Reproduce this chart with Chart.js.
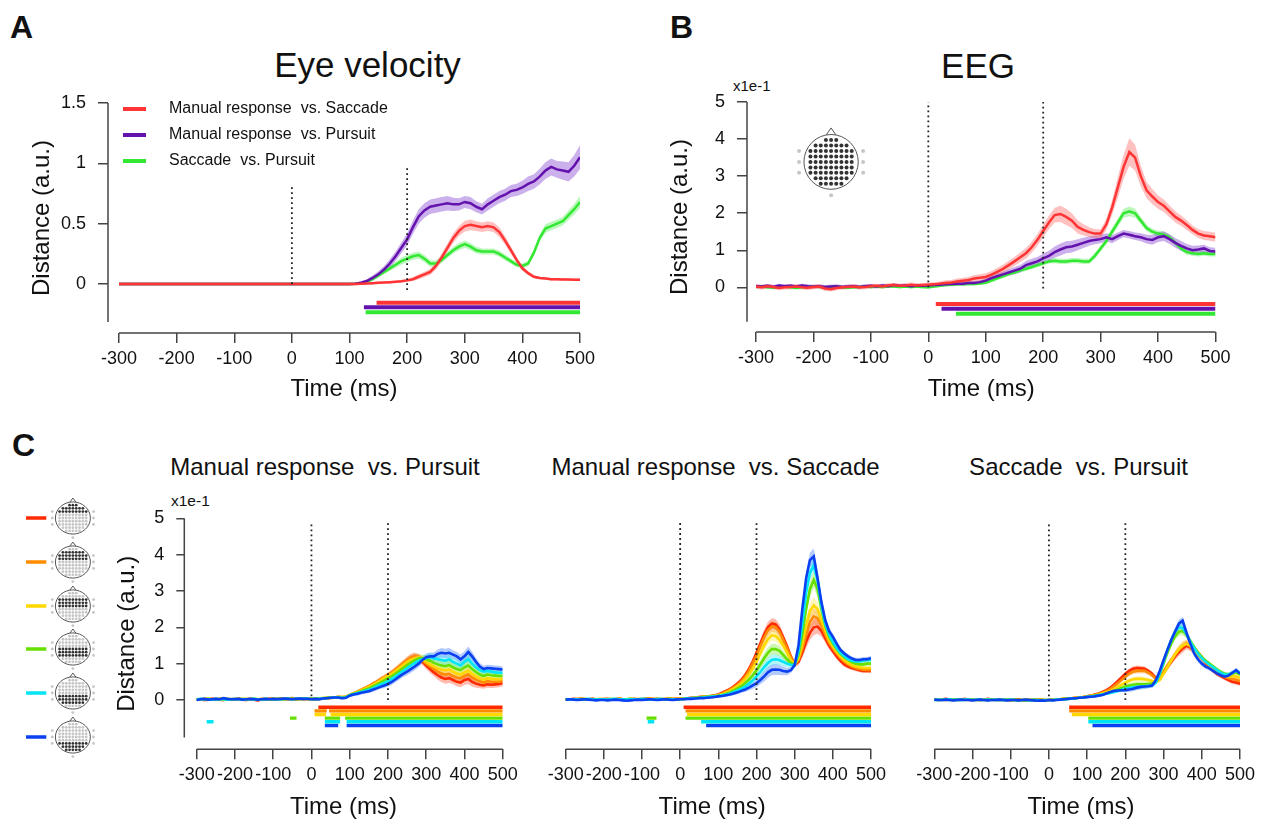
<!DOCTYPE html>
<html>
<head>
<meta charset="utf-8">
<script src="https://cdn.jsdelivr.net/npm/chart.js@4.4.1/dist/chart.umd.min.js"></script>
<style>
  body { margin: 0; background: #fff; width: 1268px; height: 819px; overflow: hidden; position: relative;
         font-family: "Liberation Sans", Arial, sans-serif; color: #111; }
  canvas { position: absolute; }
  .txt { position: absolute; line-height: 1; white-space: pre; }
  .ctr { transform: translateX(-50%); }
</style>
</head>
<body>
<div class="txt" style="left:10px;top:11px;font-size:32px;font-weight:bold">A</div>
<div class="txt" style="left:670px;top:11px;font-size:32px;font-weight:bold">B</div>
<div class="txt" style="left:12px;top:429px;font-size:32px;font-weight:bold">C</div>
<div class="txt ctr" style="left:367.5px;top:47px;font-size:35px">Eye velocity</div>
<div class="txt ctr" style="left:978px;top:48px;font-size:35px">EEG</div>
<div class="txt ctr" style="left:325px;top:455px;font-size:24px">Manual response  vs. Pursuit</div>
<div class="txt ctr" style="left:715.5px;top:455px;font-size:24px">Manual response  vs. Saccade</div>
<div class="txt ctr" style="left:1078.5px;top:455px;font-size:24px">Saccade  vs. Pursuit</div>
<div class="txt" style="left:733px;top:78px;font-size:15px">x1e-1</div>
<div class="txt" style="left:171px;top:493px;font-size:15.5px">x1e-1</div>

<canvas id="cA" width="630" height="410" style="left:0;top:0"></canvas>
<canvas id="cB" width="628" height="410" style="left:640px;top:0"></canvas>
<canvas id="headB" width="84" height="92" style="left:790px;top:115px"></canvas>
<canvas id="cC1" width="530" height="410" style="left:0;top:420px"></canvas>
<canvas id="cC2" width="370" height="410" style="left:530px;top:420px"></canvas>
<canvas id="cC3" width="368" height="410" style="left:900px;top:420px"></canvas>

<script>
// ---- time axis (ms) ----
const times = [
  -300,-290,-280,-270,-260,-250,-240,-230,-220,-210,
  -200,-190,-180,-170,-160,-150,-140,-130,-120,-110,
  -100,-90,-80,-70,-60,-50,-40,-30,-20,-10,
  0,10,20,30,40,50,60,70,80,90,
  100,110,120,130,140,150,160,170,180,190,
  200,210,220,230,240,250,260,270,280,290,
  300,310,320,330,340,350,360,370,380,390,
  400,410,420,430,440,450,460,470,480,490,
  500];
const xTicks = [-300, -200, -100, 0, 100, 200, 300, 400, 500];
const markerTimes = [0, 200];

const pairNames = ['Manual response  vs. Saccade', 'Manual response  vs. Pursuit', 'Saccade  vs. Pursuit'];
const pairColors = ['#ff3434', '#6412ae', '#33e833'];
const pairBands = ['rgba(255,90,90,0.38)', 'rgba(140,80,210,0.45)', 'rgba(80,235,80,0.38)'];
const clusterColors = ['#ff2a00', '#ff8c00', '#ffd800', '#66e000', '#00e4f4', '#0a40f0'];
const clusterBands = ['rgba(255,60,20,0.35)', 'rgba(255,150,30,0.35)', 'rgba(255,225,40,0.35)',
                      'rgba(120,230,40,0.35)', 'rgba(40,225,245,0.35)', 'rgba(40,100,245,0.35)'];

// ---- A: eye velocity ----
const aRed = [
  0,0,0,0,0,0,0,0,0,0,
  0,0,0,0,0,0,0,0,0,0,
  0,0,0,0,0,0,0,0,0,0,
  0,0,0,0,0,0,0,0,0,0,
  0,0,0.003,0.005,0.007,0.01,0.012,0.015,0.018,0.022,
  0.03,0.04,0.06,0.08,0.1,0.15,0.22,0.3,0.38,0.44,
  0.48,0.49,0.48,0.47,0.48,0.47,0.43,0.36,0.28,0.2,
  0.13,0.09,0.06,0.05,0.045,0.04,0.04,0.038,0.037,0.036,
  0.036];
const aPurple = [
  0,0,0,0,0,0,0,0,0,0,
  0,0,0,0,0,0,0,0,0,0,
  0,0,0,0,0,0,0,0,0,0,
  0,0,0,0,0,0,0,0,0,0,
  0,0.003,0.01,0.025,0.05,0.08,0.12,0.17,0.23,0.3,
  0.37,0.47,0.56,0.61,0.64,0.65,0.66,0.67,0.66,0.66,
  0.68,0.67,0.64,0.62,0.66,0.69,0.72,0.74,0.77,0.78,
  0.8,0.83,0.85,0.89,0.94,0.97,0.95,0.94,0.93,0.98,
  1.05];
const aGreen = [
  0,0,0,0,0,0,0,0,0,0,
  0,0,0,0,0,0,0,0,0,0,
  0,0,0,0,0,0,0,0,0,0,
  0,0,0,0,0,0,0,0,0,0,
  0,0.002,0.008,0.02,0.04,0.07,0.1,0.13,0.16,0.19,
  0.21,0.23,0.24,0.21,0.17,0.17,0.2,0.24,0.28,0.31,
  0.33,0.31,0.28,0.27,0.27,0.27,0.25,0.22,0.19,0.16,
  0.15,0.17,0.26,0.38,0.46,0.48,0.5,0.52,0.57,0.62,
  0.68];
const aSemRed = [
  0.01,0.01,0.01,0.01,0.01,0.01,0.01,0.01,0.01,0.01,
  0.01,0.01,0.01,0.01,0.01,0.01,0.01,0.01,0.01,0.01,
  0.01,0.01,0.01,0.01,0.01,0.01,0.01,0.01,0.01,0.01,
  0.01,0.01,0.01,0.01,0.01,0.01,0.01,0.01,0.01,0.01,
  0.01,0.01,0.01,0.01,0.01,0.01,0.01,0.01,0.01,0.012,
  0.012,0.015,0.02,0.022,0.025,0.03,0.032,0.035,0.04,0.04,
  0.045,0.045,0.04,0.04,0.04,0.04,0.04,0.035,0.03,0.025,
  0.02,0.015,0.012,0.01,0.01,0.01,0.01,0.01,0.01,0.01,
  0.01];
const aSemPurple = [
  0.01,0.01,0.01,0.01,0.01,0.01,0.01,0.01,0.01,0.01,
  0.01,0.01,0.01,0.01,0.01,0.01,0.01,0.01,0.01,0.01,
  0.01,0.01,0.01,0.01,0.01,0.01,0.01,0.01,0.01,0.01,
  0.01,0.01,0.01,0.01,0.01,0.01,0.01,0.01,0.01,0.01,
  0.01,0.01,0.012,0.015,0.02,0.025,0.03,0.035,0.04,0.045,
  0.05,0.055,0.06,0.06,0.06,0.06,0.06,0.06,0.055,0.05,
  0.05,0.05,0.045,0.045,0.05,0.05,0.05,0.05,0.05,0.05,
  0.055,0.06,0.06,0.065,0.07,0.07,0.07,0.075,0.08,0.09,
  0.1];
const aSemGreen = [
  0.01,0.01,0.01,0.01,0.01,0.01,0.01,0.01,0.01,0.01,
  0.01,0.01,0.01,0.01,0.01,0.01,0.01,0.01,0.01,0.01,
  0.01,0.01,0.01,0.01,0.01,0.01,0.01,0.01,0.01,0.01,
  0.01,0.01,0.01,0.01,0.01,0.01,0.01,0.01,0.01,0.01,
  0.01,0.01,0.01,0.012,0.015,0.018,0.02,0.022,0.025,0.028,
  0.03,0.03,0.03,0.03,0.028,0.025,0.025,0.025,0.028,0.03,
  0.03,0.03,0.028,0.025,0.025,0.025,0.025,0.025,0.022,0.02,
  0.02,0.022,0.025,0.03,0.035,0.035,0.035,0.035,0.04,0.045,
  0.05];
const sigA = [[[147, 500]], [[125, 500]], [[128, 500]]];
const sigLevelA = [-0.155, -0.193, -0.235];
const markSpanA = [[0, 0.82], [-0.05, 0.97]];

// ---- B: EEG (x1e-1) ----
const bRed = [
  0.02,0,0.03,0.01,-0.02,0,0.01,0.02,0,-0.01,
  0.01,0.02,-0.03,-0.05,-0.02,0,0.01,0.02,0,0.01,
  0.03,0.04,0.02,0.05,0.06,0.04,0.05,0.07,0.05,0.06,
  0.07,0.08,0.1,0.12,0.13,0.16,0.18,0.2,0.24,0.26,
  0.28,0.34,0.42,0.5,0.6,0.7,0.81,0.92,1.08,1.28,
  1.52,1.75,1.95,1.98,1.9,1.8,1.63,1.55,1.49,1.45,
  1.45,1.7,2.15,2.7,3.25,3.65,3.5,3.0,2.62,2.45,
  2.3,2.2,2.05,1.9,1.8,1.68,1.55,1.45,1.4,1.38,
  1.35];
const bPurple = [
  0.03,0.02,0.04,0.01,0.05,0.03,0.04,0.02,0.05,0.03,
  0.02,0.03,0.01,0.02,0.03,0.01,0.02,0.03,0.01,0.03,
  0.04,0.02,0.05,0.03,0.06,0.04,0.05,0.03,0.05,0.04,
  0.05,0.06,0.07,0.08,0.09,0.1,0.1,0.12,0.12,0.14,
  0.18,0.25,0.3,0.35,0.4,0.45,0.5,0.6,0.65,0.7,
  0.78,0.85,0.95,1.02,1.08,1.1,1.15,1.2,1.25,1.28,
  1.3,1.35,1.3,1.38,1.45,1.42,1.38,1.35,1.3,1.28,
  1.35,1.38,1.3,1.2,1.12,1.05,1.0,1.02,1.05,0.98,
  0.97];
const bGreen = [
  0.01,0.02,0,-0.01,0.01,0.02,0,-0.02,0,0.01,
  0.02,0.01,0,0.01,0.02,0,-0.01,0,0.01,0.02,
  0.01,0.02,0.01,0.03,0.02,0.01,0.02,0.01,0.02,0.01,
  0,0.02,0.04,0.06,0.07,0.08,0.08,0.09,0.09,0.1,
  0.12,0.18,0.24,0.3,0.36,0.4,0.46,0.5,0.55,0.6,
  0.65,0.7,0.72,0.7,0.7,0.72,0.72,0.7,0.7,0.85,
  1.05,1.25,1.5,1.75,2.0,2.05,2.0,1.8,1.6,1.5,
  1.45,1.42,1.35,1.2,1.05,0.95,0.92,0.9,0.92,0.9,
  0.9];
const bSemRed = [
  0.06,0.06,0.06,0.06,0.06,0.06,0.06,0.06,0.06,0.06,
  0.06,0.06,0.06,0.06,0.06,0.06,0.06,0.06,0.06,0.06,
  0.06,0.06,0.06,0.06,0.06,0.06,0.06,0.06,0.06,0.06,
  0.06,0.06,0.06,0.07,0.07,0.08,0.08,0.08,0.09,0.09,
  0.1,0.1,0.1,0.11,0.12,0.12,0.13,0.14,0.15,0.16,
  0.17,0.18,0.2,0.22,0.22,0.2,0.18,0.15,0.13,0.12,
  0.12,0.15,0.2,0.28,0.33,0.37,0.35,0.28,0.22,0.2,
  0.18,0.17,0.16,0.15,0.14,0.13,0.12,0.12,0.12,0.12,
  0.12];
const bSemPurple = [
  0.05,0.05,0.05,0.05,0.05,0.05,0.05,0.05,0.05,0.05,
  0.05,0.05,0.05,0.05,0.05,0.05,0.05,0.05,0.05,0.05,
  0.05,0.05,0.05,0.05,0.05,0.05,0.05,0.05,0.05,0.05,
  0.05,0.05,0.05,0.05,0.05,0.05,0.05,0.05,0.05,0.05,
  0.06,0.07,0.08,0.08,0.09,0.1,0.1,0.11,0.12,0.12,
  0.13,0.14,0.15,0.16,0.16,0.16,0.15,0.14,0.13,0.12,
  0.11,0.11,0.11,0.1,0.1,0.1,0.1,0.11,0.12,0.13,
  0.13,0.13,0.13,0.13,0.13,0.12,0.12,0.11,0.1,0.1,
  0.1];
const bSemGreen = [
  0.04,0.04,0.04,0.04,0.04,0.04,0.04,0.04,0.04,0.04,
  0.04,0.04,0.04,0.04,0.04,0.04,0.04,0.04,0.04,0.04,
  0.04,0.04,0.04,0.04,0.04,0.04,0.04,0.04,0.04,0.04,
  0.04,0.04,0.04,0.04,0.04,0.04,0.04,0.04,0.04,0.04,
  0.04,0.04,0.05,0.05,0.05,0.05,0.06,0.06,0.06,0.06,
  0.06,0.06,0.07,0.07,0.07,0.07,0.07,0.07,0.07,0.08,
  0.08,0.09,0.1,0.11,0.12,0.13,0.12,0.1,0.09,0.08,
  0.08,0.08,0.08,0.08,0.07,0.07,0.07,0.07,0.07,0.07,
  0.07];
const sigB = [[[13, 500]], [[23, 500]], [[48, 500]]];
const sigLevelB = [-0.45, -0.58, -0.71];
const markSpanB = [[0, 5], [-0.03, 5]];

// ---- C: electrode clusters (x1e-1), order red, orange, yellow, green, cyan, blue ----
const c1Red = [
  0.01,0.02,0,0.01,0.03,0.02,0.01,0,0.02,0.01,
  0.02,0.03,0.01,0,0.02,0.01,-0.01,0.02,0.01,0.03,
  0.02,0.04,0.03,0.02,0.03,0.05,0.03,0.02,0.03,0.04,
  0.02,0.03,0.03,0.04,0.05,0.06,0.07,0.08,0.07,0.08,
  0.14,0.18,0.22,0.27,0.32,0.37,0.43,0.49,0.55,0.61,
  0.67,0.74,0.82,0.9,0.99,1.08,1.15,1.19,1.15,1.06,
  0.95,0.85,0.76,0.68,0.62,0.58,0.6,0.55,0.5,0.48,
  0.55,0.58,0.5,0.45,0.42,0.4,0.43,0.42,0.43,0.44,
  0.46];
const c1Orange = [
  0.02,0.01,0.03,0.02,0.01,0.02,0.03,0.02,0.01,0.02,
  0.03,0.02,0.02,0.01,0.03,0.02,0.01,0.03,0.02,0.02,
  0.03,0.02,0.04,0.03,0.02,0.04,0.03,0.04,0.02,0.03,
  0.03,0.03,0.04,0.04,0.05,0.06,0.07,0.08,0.08,0.09,
  0.14,0.19,0.23,0.28,0.33,0.38,0.44,0.5,0.57,0.63,
  0.69,0.76,0.84,0.93,1.02,1.1,1.17,1.2,1.18,1.1,
  1.0,0.92,0.85,0.78,0.73,0.7,0.72,0.66,0.62,0.6,
  0.66,0.7,0.62,0.56,0.52,0.48,0.52,0.5,0.5,0.5,
  0.52];
const c1Yellow = [
  0.01,0.02,0.02,0.03,0.01,0.02,0.02,0.01,0.03,0.02,
  0.02,0.01,0.02,0.03,0.02,0.01,0.02,0.02,0.03,0.01,
  0.02,0.03,0.02,0.03,0.04,0.02,0.03,0.03,0.04,0.03,
  0.02,0.03,0.04,0.05,0.05,0.06,0.07,0.08,0.08,0.09,
  0.14,0.18,0.22,0.26,0.31,0.36,0.41,0.47,0.53,0.6,
  0.66,0.72,0.8,0.88,0.96,1.04,1.1,1.15,1.17,1.12,
  1.05,0.98,0.92,0.87,0.84,0.82,0.84,0.78,0.73,0.7,
  0.76,0.8,0.72,0.65,0.6,0.56,0.6,0.58,0.57,0.57,
  0.58];
const c1Green = [
  0.02,0.02,0.01,0.03,0.02,0.01,0.02,0.03,0.02,0.01,
  0.02,0.02,0.03,0.01,0.02,0.03,0.02,0.01,0.02,0.02,
  0.03,0.02,0.03,0.02,0.04,0.03,0.02,0.03,0.04,0.03,
  0.03,0.03,0.04,0.05,0.06,0.07,0.07,0.08,0.07,0.08,
  0.13,0.17,0.2,0.24,0.28,0.32,0.37,0.42,0.48,0.54,
  0.6,0.66,0.73,0.8,0.88,0.96,1.03,1.1,1.15,1.15,
  1.12,1.08,1.02,0.98,0.95,0.93,0.96,0.9,0.85,0.82,
  0.9,0.95,0.85,0.77,0.7,0.66,0.7,0.68,0.67,0.66,
  0.66];
const c1Cyan = [
  0.01,0.03,0.02,0.02,0.01,0.03,0.02,0.02,0.01,0.02,
  0.03,0.02,0.01,0.02,0.02,0.03,0.01,0.02,0.03,0.02,
  0.02,0.03,0.02,0.03,0.03,0.02,0.04,0.03,0.03,0.04,
  0.02,0.03,0.03,0.04,0.05,0.06,0.07,0.07,0.06,0.07,
  0.13,0.16,0.19,0.22,0.25,0.28,0.32,0.37,0.42,0.47,
  0.52,0.58,0.65,0.73,0.8,0.88,0.95,1.02,1.08,1.12,
  1.15,1.18,1.15,1.12,1.1,1.08,1.12,1.05,1.0,0.95,
  1.05,1.12,1.0,0.9,0.82,0.78,0.8,0.78,0.76,0.75,
  0.75];
const c1Blue = [
  0,0.02,0.03,0.01,0.02,0.03,0.02,0.05,0.03,0.02,
  0.02,0.03,0.01,0.02,0.03,0.02,0.01,0.02,0.03,0.02,
  0.03,0.02,0.03,0.04,0.03,0.02,0.03,0.04,0.03,0.03,
  0.02,0.03,0.02,0.04,0.05,0.06,0.07,0.07,0.05,0.06,
  0.12,0.15,0.17,0.2,0.22,0.24,0.28,0.32,0.36,0.4,
  0.44,0.5,0.57,0.65,0.72,0.78,0.85,0.92,1.0,1.1,
  1.18,1.2,1.2,1.27,1.3,1.28,1.3,1.25,1.2,1.12,
  1.2,1.32,1.2,1.05,0.92,0.85,0.88,0.87,0.86,0.85,
  0.84];
const c1Sem = [
  0.04,0.04,0.04,0.04,0.04,0.04,0.04,0.04,0.04,0.04,
  0.04,0.04,0.04,0.04,0.04,0.04,0.04,0.04,0.04,0.04,
  0.04,0.04,0.04,0.04,0.04,0.04,0.04,0.04,0.04,0.04,
  0.04,0.04,0.04,0.04,0.04,0.04,0.04,0.04,0.04,0.04,
  0.04,0.04,0.05,0.05,0.05,0.05,0.06,0.06,0.06,0.07,
  0.07,0.08,0.08,0.09,0.09,0.1,0.1,0.1,0.1,0.1,
  0.1,0.11,0.11,0.12,0.13,0.13,0.13,0.12,0.12,0.13,
  0.14,0.15,0.13,0.11,0.1,0.09,0.09,0.09,0.09,0.09,
  0.09];

const c2Red = [
  0.02,0.01,0.03,0.02,0.04,0.02,0.01,0.03,0.02,0.01,
  0.02,0.03,0.01,0.02,0.04,0.02,0.01,0.02,0.03,0.01,
  0.02,0.03,0.04,0.02,0.03,0.01,0.02,0.04,0.03,0.03,
  0.03,0.04,0.05,0.06,0.07,0.08,0.09,0.1,0.11,0.13,
  0.15,0.2,0.25,0.3,0.37,0.45,0.55,0.68,0.85,1.05,
  1.3,1.55,1.8,2.0,2.1,2.08,1.95,1.72,1.48,1.2,
  0.98,1.05,1.3,1.6,1.85,2.0,2.02,1.9,1.7,1.5,
  1.35,1.2,1.08,0.98,0.92,0.88,0.85,0.82,0.8,0.8,
  0.8];
const c2Orange = [
  0.01,0.02,0.02,0.03,0.02,0.01,0.02,0.03,0.01,0.02,
  0.03,0.02,0.02,0.01,0.03,0.02,0.02,0.03,0.01,0.02,
  0.03,0.02,0.03,0.03,0.02,0.02,0.03,0.03,0.02,0.03,
  0.03,0.04,0.05,0.06,0.07,0.08,0.09,0.1,0.11,0.12,
  0.14,0.18,0.23,0.28,0.35,0.42,0.52,0.64,0.8,1.0,
  1.22,1.48,1.72,1.92,2.02,2.0,1.88,1.66,1.42,1.18,
  0.98,1.1,1.4,1.8,2.15,2.3,2.25,2.05,1.8,1.58,
  1.42,1.28,1.15,1.05,0.98,0.92,0.88,0.85,0.83,0.83,
  0.82];
const c2Yellow = [
  0.02,0.02,0.01,0.02,0.03,0.02,0.02,0.01,0.02,0.03,
  0.02,0.01,0.02,0.02,0.03,0.01,0.02,0.02,0.02,0.03,
  0.02,0.02,0.03,0.02,0.02,0.03,0.02,0.03,0.03,0.02,
  0.03,0.03,0.04,0.05,0.06,0.07,0.08,0.09,0.1,0.11,
  0.13,0.16,0.2,0.25,0.31,0.38,0.46,0.57,0.7,0.86,
  1.05,1.28,1.5,1.68,1.78,1.76,1.66,1.5,1.3,1.1,
  0.97,1.15,1.55,2.05,2.45,2.6,2.5,2.2,1.92,1.65,
  1.48,1.33,1.2,1.1,1.02,0.96,0.92,0.9,0.88,0.88,
  0.88];
const c2Green = [
  0.01,0.02,0.02,0.01,0.02,0.03,0.02,0.01,0.02,0.02,
  0.01,0.02,0.03,0.02,0.01,0.02,0.02,0.03,0.02,0.01,
  0.02,0.03,0.02,0.02,0.03,0.02,0.02,0.03,0.02,0.02,
  0.02,0.03,0.04,0.05,0.06,0.07,0.08,0.09,0.1,0.11,
  0.12,0.14,0.17,0.21,0.26,0.32,0.38,0.46,0.56,0.68,
  0.82,0.98,1.15,1.3,1.4,1.4,1.35,1.24,1.12,1.02,
  0.97,1.25,1.8,2.5,3.05,3.3,3.05,2.5,2.05,1.75,
  1.55,1.4,1.27,1.17,1.1,1.04,1.0,0.98,0.98,1.0,
  1.0];
const c2Cyan = [
  0.02,0.01,0.02,0.02,0.01,0.02,0.03,0.02,0.01,0.02,
  0.02,0.01,0.02,0.03,0.02,0.02,0.01,0.02,0.02,0.02,
  0.03,0.02,0.02,0.01,0.02,0.03,0.02,0.02,0.02,0.02,
  0.02,0.03,0.04,0.05,0.05,0.06,0.07,0.08,0.09,0.1,
  0.11,0.13,0.15,0.18,0.22,0.26,0.31,0.37,0.45,0.54,
  0.65,0.77,0.9,1.02,1.1,1.12,1.1,1.05,1.0,0.97,
  0.96,1.35,2.1,2.95,3.5,3.7,3.3,2.6,2.1,1.8,
  1.6,1.43,1.3,1.2,1.12,1.08,1.06,1.06,1.08,1.1,
  1.1];
const c2Blue = [
  0.01,0.02,0.01,0,0.01,0.02,0.01,0,-0.01,0,
  0,-0.01,0,0.01,0,-0.01,-0.02,-0.01,0,0.01,
  0,0.01,0.02,0.01,0,0.01,0.02,0.01,0,0.01,
  0.02,0.02,0.03,0.03,0.04,0.05,0.05,0.06,0.07,0.08,
  0.1,0.11,0.13,0.15,0.18,0.21,0.25,0.29,0.34,0.4,
  0.46,0.55,0.65,0.76,0.83,0.84,0.83,0.8,0.78,0.82,
  0.96,1.5,2.5,3.35,3.85,3.95,3.35,2.7,2.2,1.9,
  1.74,1.55,1.38,1.28,1.2,1.14,1.1,1.1,1.12,1.12,
  1.15];
const c2Sem = [
  0.03,0.03,0.03,0.03,0.03,0.03,0.03,0.03,0.03,0.03,
  0.03,0.03,0.03,0.03,0.03,0.03,0.03,0.03,0.03,0.03,
  0.03,0.03,0.03,0.03,0.03,0.03,0.03,0.03,0.03,0.03,
  0.03,0.03,0.03,0.03,0.03,0.03,0.03,0.03,0.03,0.03,
  0.03,0.03,0.04,0.04,0.05,0.05,0.06,0.07,0.08,0.09,
  0.1,0.12,0.14,0.15,0.15,0.15,0.14,0.12,0.1,0.08,
  0.07,0.1,0.14,0.18,0.2,0.22,0.2,0.16,0.12,0.1,
  0.09,0.08,0.07,0.07,0.06,0.06,0.06,0.06,0.06,0.06,
  0.06];

const c3Red = [
  0.02,0,0.01,0.03,0.01,0,0.02,0.01,0.03,0,
  0.01,0.02,0,0.01,0.03,0.01,0,0.02,0.01,0,
  -0.01,0.01,0.02,0,0.01,-0.01,0,0.02,0.01,0,
  0,0.01,0.01,0.02,0.03,0.04,0.05,0.06,0.07,0.08,
  0.1,0.12,0.15,0.18,0.22,0.27,0.33,0.42,0.52,0.62,
  0.72,0.8,0.86,0.88,0.87,0.86,0.8,0.72,0.6,0.6,
  0.75,0.9,1.05,1.2,1.32,1.42,1.5,1.45,1.35,1.25,
  1.15,1.02,0.9,0.8,0.72,0.66,0.6,0.55,0.5,0.48,
  0.45];
const c3Orange = [
  0.01,0.02,0,0.01,0.02,0.01,0,0.01,0.02,0.01,
  0,0.01,0.02,0.01,0,0.02,0.01,0,0.01,0.02,
  0,0.01,0,-0.01,0,0.01,0,0.01,0,0,
  0,0.01,0.02,0.02,0.03,0.04,0.05,0.06,0.07,0.08,
  0.1,0.12,0.14,0.17,0.2,0.25,0.3,0.38,0.46,0.55,
  0.64,0.72,0.78,0.8,0.8,0.8,0.75,0.68,0.58,0.6,
  0.78,0.95,1.1,1.25,1.38,1.48,1.55,1.5,1.4,1.3,
  1.18,1.05,0.95,0.85,0.77,0.7,0.64,0.6,0.58,0.56,
  0.52];
const c3Yellow = [
  0,0.01,0.01,0,0.02,0.01,0,0.01,0.01,0.02,
  0.01,0,0.01,0.02,0.01,0,0.01,0.01,0,0.01,
  0.01,0,-0.01,0,0.01,0,-0.01,0,0.01,0,
  0,0,0.01,0.02,0.03,0.04,0.05,0.06,0.07,0.08,
  0.09,0.11,0.13,0.15,0.18,0.21,0.25,0.3,0.36,0.42,
  0.48,0.53,0.57,0.58,0.58,0.57,0.55,0.52,0.5,0.55,
  0.72,0.9,1.08,1.25,1.4,1.5,1.55,1.48,1.36,1.25,
  1.15,1.05,0.96,0.88,0.8,0.73,0.68,0.65,0.65,0.65,
  0.6];
const c3Green = [
  0.01,0,0.01,0.01,0,0.01,0.02,0.01,0,0.01,
  0.01,0,0.01,0,0.01,0.02,0,0.01,0,0.01,
  0,0.01,0,0,-0.01,0,0.01,0,0,-0.01,
  0,0,0.01,0.02,0.03,0.03,0.04,0.05,0.06,0.07,
  0.09,0.1,0.12,0.14,0.16,0.18,0.21,0.25,0.29,0.33,
  0.37,0.4,0.42,0.43,0.43,0.43,0.44,0.45,0.5,0.7,
  1.0,1.3,1.55,1.75,1.88,1.9,1.8,1.62,1.45,1.3,
  1.18,1.08,1.0,0.92,0.84,0.77,0.72,0.7,0.72,0.76,
  0.7];
const c3Cyan = [
  0,0.01,0,0.01,0.02,0,0.01,0,0.01,0.01,
  0,0.01,0.01,0,0.01,0,0.01,0,0.01,0,
  0.01,0,-0.01,0,0,-0.01,0,0,-0.01,0,
  0,0,0.01,0.01,0.02,0.03,0.04,0.05,0.06,0.07,
  0.09,0.1,0.11,0.13,0.15,0.17,0.19,0.22,0.25,0.28,
  0.31,0.33,0.35,0.36,0.37,0.38,0.39,0.4,0.48,0.72,
  1.05,1.38,1.65,1.88,2.0,1.98,1.82,1.6,1.42,1.28,
  1.15,1.05,0.97,0.9,0.82,0.75,0.7,0.7,0.75,0.8,
  0.75];
const c3Blue = [
  0.01,0,0,0.01,0,-0.01,0,0.01,0,0,
  -0.01,0,0.01,0,-0.01,0,0,0.01,0,-0.01,
  0,0,-0.01,0,0.01,0,-0.01,-0.02,-0.01,-0.02,
  0,-0.01,0,0.01,0.02,0.03,0.04,0.05,0.06,0.07,
  0.08,0.09,0.1,0.12,0.14,0.18,0.22,0.25,0.26,0.27,
  0.27,0.29,0.31,0.34,0.36,0.37,0.38,0.4,0.55,0.8,
  1.1,1.38,1.65,1.88,2.1,2.18,1.85,1.55,1.28,1.12,
  1.0,0.92,0.87,0.8,0.73,0.68,0.64,0.67,0.75,0.82,
  0.72];
const c3Sem = [
  0.03,0.03,0.03,0.03,0.03,0.03,0.03,0.03,0.03,0.03,
  0.03,0.03,0.03,0.03,0.03,0.03,0.03,0.03,0.03,0.03,
  0.03,0.03,0.03,0.03,0.03,0.03,0.03,0.03,0.03,0.03,
  0.03,0.03,0.03,0.03,0.03,0.03,0.03,0.03,0.03,0.03,
  0.03,0.03,0.03,0.03,0.03,0.03,0.04,0.04,0.05,0.05,
  0.06,0.06,0.07,0.07,0.07,0.07,0.06,0.06,0.06,0.06,
  0.07,0.08,0.09,0.1,0.11,0.12,0.11,0.1,0.09,0.08,
  0.07,0.06,0.06,0.06,0.06,0.06,0.06,0.06,0.06,0.06,
  0.06];

const sigLevelC = [-0.2, -0.3, -0.4, -0.5, -0.6, -0.7];
const sigC1 = [[[18, 500]], [[8, 40], [46, 500]], [[8, 38], [50, 500]],
               [[35, 75], [88, 500], [-56, -39]], [[35, 75], [92, 500], [-274, -256]], [[35, 70], [92, 500]]];
const sigC2 = [[[9, 500]], [[14, 500]], [[18, 500]], [[14, 500], [-88, -62]], [[55, 500], [-85, -68]], [[68, 500]]];
const sigC3 = [[[53, 500]], [[53, 500]], [[60, 500]], [[103, 500]], [[103, 500]], [[114, 500]]];
const markSpanC1 = [[0.1, 4.9], [0, 4.9]];
const markSpanC2 = [[0.14, 4.9], [0, 4.9]];
const markSpanC3 = [[0.1, 4.9], [0, 4.9]];

// ---- electrode montage for the head insets ----
const eegRowCounts = [3, 7, 9, 9, 9, 9, 9, 7, 5];
const eegRowY = [4, 3, 2, 1, 0, -1, -2, -3, -4];
const eegOuter = [[-5.9, 2], [5.9, 2], [-5.9, 0], [5.9, 0], [-5.9, -2], [5.9, -2], [0, -6.1]];
const headRowsB = [0, 1, 2, 3, 4, 5, 6, 7, 8];
const headRowsC = [[0, 1, 2], [1, 2, 3], [2, 3, 4], [4, 5, 6], [5, 6, 7], [6, 7, 8]];

Chart.defaults.font.family = '"Liberation Sans", Arial, sans-serif';
Chart.defaults.color = '#111';

// R-style axis lines: x from first to last tick, y over a chosen span
const rAxis = {
  id: 'rAxis',
  afterDraw(chart, args, opts) {
    const {ctx, chartArea, scales: {x, y}} = chart;
    ctx.save();
    ctx.strokeStyle = '#444';
    ctx.lineWidth = 1.5;
    ctx.beginPath();
    ctx.moveTo(x.getPixelForValue(xTicks[0]), chartArea.bottom);
    ctx.lineTo(x.getPixelForValue(xTicks[xTicks.length - 1]), chartArea.bottom);
    if (opts.yTop !== undefined) {
      ctx.moveTo(chartArea.left, y.getPixelForValue(opts.yTop));
      ctx.lineTo(chartArea.left, y.getPixelForValue(opts.yBottom));
    }
    ctx.stroke();
    ctx.restore();
  }
};

// legend drawn inside the plot of panel A
const insetLegend = {
  id: 'insetLegend',
  afterDatasetsDraw(chart) {
    const {ctx, chartArea} = chart;
    ctx.save();
    ctx.font = '16px "Liberation Sans", Arial, sans-serif';
    ctx.textBaseline = 'middle';
    pairNames.forEach((name, i) => {
      const yy = chartArea.top + 6 + i * 26;
      ctx.strokeStyle = pairColors[i];
      ctx.lineWidth = 4;
      ctx.beginPath();
      ctx.moveTo(chartArea.left + 15, yy);
      ctx.lineTo(chartArea.left + 38, yy);
      ctx.stroke();
      ctx.fillStyle = '#111';
      ctx.fillText(name, chartArea.left + 61, yy);
    });
    ctx.restore();
  }
};

// head outline + nose for the montage insets
const headOutline = {
  id: 'headOutline',
  beforeDatasetsDraw(chart) {
    const {ctx, scales: {x, y}} = chart;
    const cx = x.getPixelForValue(0), cy = y.getPixelForValue(0);
    const rx = x.getPixelForValue(5) - cx, ry = cy - y.getPixelForValue(5);
    ctx.save();
    ctx.strokeStyle = '#555';
    ctx.lineWidth = 1;
    ctx.beginPath();
    ctx.ellipse(cx, cy, rx, ry, 0, 0, 2 * Math.PI);
    ctx.stroke();
    ctx.beginPath();
    ctx.moveTo(x.getPixelForValue(-0.9), y.getPixelForValue(4.9));
    ctx.lineTo(cx, y.getPixelForValue(6.2));
    ctx.lineTo(x.getPixelForValue(0.9), y.getPixelForValue(4.9));
    ctx.stroke();
    ctx.restore();
  }
};

function timePanel(id, p) {
  const ds = [];
  p.means.forEach((m, k) => {
    const s = p.sems[k];
    ds.push({data: times.map((t, i) => ({x: t, y: m[i] + s[i]})), borderWidth: 0, pointRadius: 0,
             backgroundColor: p.bands[k], fill: '+1', order: 40 + k});
    ds.push({data: times.map((t, i) => ({x: t, y: m[i] - s[i]})), borderWidth: 0, pointRadius: 0,
             fill: false, order: 40 + k});
  });
  p.means.forEach((m, k) => {
    ds.push({data: times.map((t, i) => ({x: t, y: m[i]})), borderColor: p.colors[k],
             borderWidth: p.lineWidth, pointRadius: 0, fill: false,
             order: p.lastOnTop ? 30 - k : 20 + k});
  });
  p.sig.forEach((segs, k) => {
    segs.forEach(seg => {
      ds.push({data: [{x: seg[0], y: p.sigLevel[k]}, {x: seg[1], y: p.sigLevel[k]}],
               borderColor: p.colors[k], borderWidth: p.sigWidth, borderCapStyle: 'butt',
               pointRadius: 0, fill: false, order: 10});
    });
  });
  markerTimes.forEach((t, m) => {
    ds.push({data: [{x: t, y: p.marks[m][0]}, {x: t, y: p.marks[m][1]}], borderColor: '#222',
             borderWidth: 1.8, borderDash: [1.8, 3.2], pointRadius: 0, fill: false, order: 0});
  });

  const tickFont = {size: 18};
  const yScale = p.showY ? {
    min: p.yMin, max: p.yMax,
    afterBuildTicks: s => { s.ticks = p.yTicks.map(v => ({value: v})); },
    afterFit: s => { s.width = p.yWidth; },
    ticks: {font: tickFont, padding: 12, color: '#111', autoSkip: false, callback: v => String(v)},
    grid: {drawOnChartArea: false, drawTicks: true, tickLength: p.yTickLen, color: '#444', lineWidth: 1.5},
    border: {display: false},
    title: {display: true, text: 'Distance (a.u.)', font: {size: 24}, color: '#111', padding: {top: p.yTitlePad, bottom: 0}}
  } : {min: p.yMin, max: p.yMax, display: false};

  return new Chart(document.getElementById(id), {
    type: 'line',
    data: {datasets: ds},
    options: {
      responsive: false, animation: false, events: [],
      layout: {padding: p.pad},
      plugins: {legend: {display: false}, tooltip: {enabled: false},
                rAxis: p.showY ? {yTop: p.yMax, yBottom: p.yAxisEnd} : {}},
      scales: {
        x: {
          type: 'linear', min: p.xMin, max: 500,
          afterBuildTicks: s => { s.ticks = xTicks.map(v => ({value: v})); },
          afterFit: s => { s.height = p.xHeight; },
          ticks: {font: tickFont, padding: 5, color: '#111', autoSkip: false, maxRotation: 0, callback: v => String(v)},
          grid: {drawOnChartArea: false, drawTicks: true, tickLength: 10, color: '#444', lineWidth: 1.5},
          border: {display: false},
          title: {display: true, text: 'Time (ms)', font: {size: 24}, color: '#111', padding: {top: 0, bottom: p.xTitlePad}}
        },
        y: yScale
      }
    },
    plugins: p.legend ? [rAxis, insetLegend] : [rAxis]
  });
}

timePanel('cA', {
  means: [aRed, aPurple, aGreen], sems: [aSemRed, aSemPurple, aSemGreen],
  colors: pairColors, bands: pairBands, lineWidth: 2.5, lastOnTop: false,
  sig: sigA, sigLevel: sigLevelA, sigWidth: 4, marks: markSpanA,
  showY: true, yMin: -0.406, yMax: 1.5, yTicks: [0, 0.5, 1, 1.5], yAxisEnd: -0.315,
  yWidth: 108, yTickLen: 10, yTitlePad: 27.6,
  xMin: -319.1, xHeight: 77, xTitlePad: 6.6,
  pad: {top: 103, right: 50, left: 0, bottom: 0}, legend: true
});

timePanel('cB', {
  means: [bRed, bPurple, bGreen], sems: [bSemRed, bSemPurple, bSemGreen],
  colors: pairColors, bands: pairBands, lineWidth: 2.5, lastOnTop: false,
  sig: sigB, sigLevel: sigLevelB, sigWidth: 4, marks: markSpanB,
  showY: true, yMin: -1.205, yMax: 5, yTicks: [0, 1, 2, 3, 4, 5], yAxisEnd: -0.93,
  yWidth: 107, yTickLen: 10, yTitlePad: 25.6,
  xMin: -315.7, xHeight: 78, xTitlePad: 6.6,
  pad: {top: 102, right: 52.5, left: 0, bottom: 0}
});

const cCommon = {
  colors: clusterColors, bands: clusterBands, lineWidth: 2.6, lastOnTop: true,
  sigLevel: sigLevelC, sigWidth: 3.4, yMin: -1.357, yMax: 5, yTicks: [0, 1, 2, 3, 4, 5],
  xMin: -332.4, xHeight: 80.7, xTitlePad: 8.6
};
timePanel('cC1', Object.assign({}, cCommon, {
  means: [c1Red, c1Orange, c1Yellow, c1Green, c1Cyan, c1Blue],
  sems: [c1Sem, c1Sem, c1Sem, c1Sem, c1Sem, c1Sem], sig: sigC1, marks: markSpanC1,
  showY: true, yAxisEnd: -1.03, yWidth: 184.3, yTickLen: 8, yTitlePad: 113.1,
  pad: {top: 98.3, right: 27.3, left: 0, bottom: 0}
}));
timePanel('cC2', Object.assign({}, cCommon, {
  means: [c2Red, c2Orange, c2Yellow, c2Green, c2Cyan, c2Blue],
  sems: [c2Sem, c2Sem, c2Sem, c2Sem, c2Sem, c2Sem], sig: sigC2, marks: markSpanC2,
  showY: false, pad: {top: 98.3, right: 29, left: 23.3, bottom: 0}
}));
timePanel('cC3', Object.assign({}, cCommon, {
  means: [c3Red, c3Orange, c3Yellow, c3Green, c3Cyan, c3Blue],
  sems: [c3Sem, c3Sem, c3Sem, c3Sem, c3Sem, c3Sem], sig: sigC3, marks: markSpanC3,
  showY: false, pad: {top: 98.3, right: 28, left: 21.9, bottom: 0}
}));

// ---- head insets ----
function montage(selRows) {
  const pts = [], cols = [];
  eegRowCounts.forEach((n, r) => {
    for (let k = 0; k < n; k++) {
      pts.push({x: (k - (n - 1) / 2) * 0.95, y: eegRowY[r]});
      cols.push(selRows.includes(r) ? '#333' : '#c6c6c6');
    }
  });
  eegOuter.forEach(([x, y]) => { pts.push({x, y}); cols.push('#c6c6c6'); });
  return {pts, cols};
}

function headChart(canvas, selRows, dotR, xr, yr, swatchColor) {
  const m = montage(selRows);
  const ds = [{data: m.pts, pointRadius: dotR, pointBackgroundColor: m.cols, pointBorderWidth: 0}];
  if (swatchColor) {
    ds.push({data: [{x: -13.4, y: 0}, {x: -7.6, y: 0}], showLine: true, borderColor: swatchColor,
             borderWidth: 3.5, pointRadius: 0});
  }
  return new Chart(canvas, {
    type: 'scatter',
    data: {datasets: ds},
    options: {
      responsive: false, animation: false, events: [],
      layout: {padding: 0},
      plugins: {legend: {display: false}, tooltip: {enabled: false}},
      scales: {x: {type: 'linear', display: false, min: xr[0], max: xr[1]},
               y: {display: false, min: yr[0], max: yr[1]}}
    },
    plugins: [headOutline]
  });
}

headChart(document.getElementById('headB'), headRowsB, 2, [-6.83, 7.17], [-7.5, 7.83]);

headRowsC.forEach((rows, i) => {
  const cv = document.createElement('canvas');
  cv.width = 100;
  cv.height = 52;
  cv.style.left = '10px';
  cv.style.top = (492 + i * 43.8) + 'px';
  document.body.appendChild(cv);
  headChart(cv, rows, 1.4, [-16.84, 9.47], [-6.84, 6.84], clusterColors[i]);
});
</script>
</body>
</html>
